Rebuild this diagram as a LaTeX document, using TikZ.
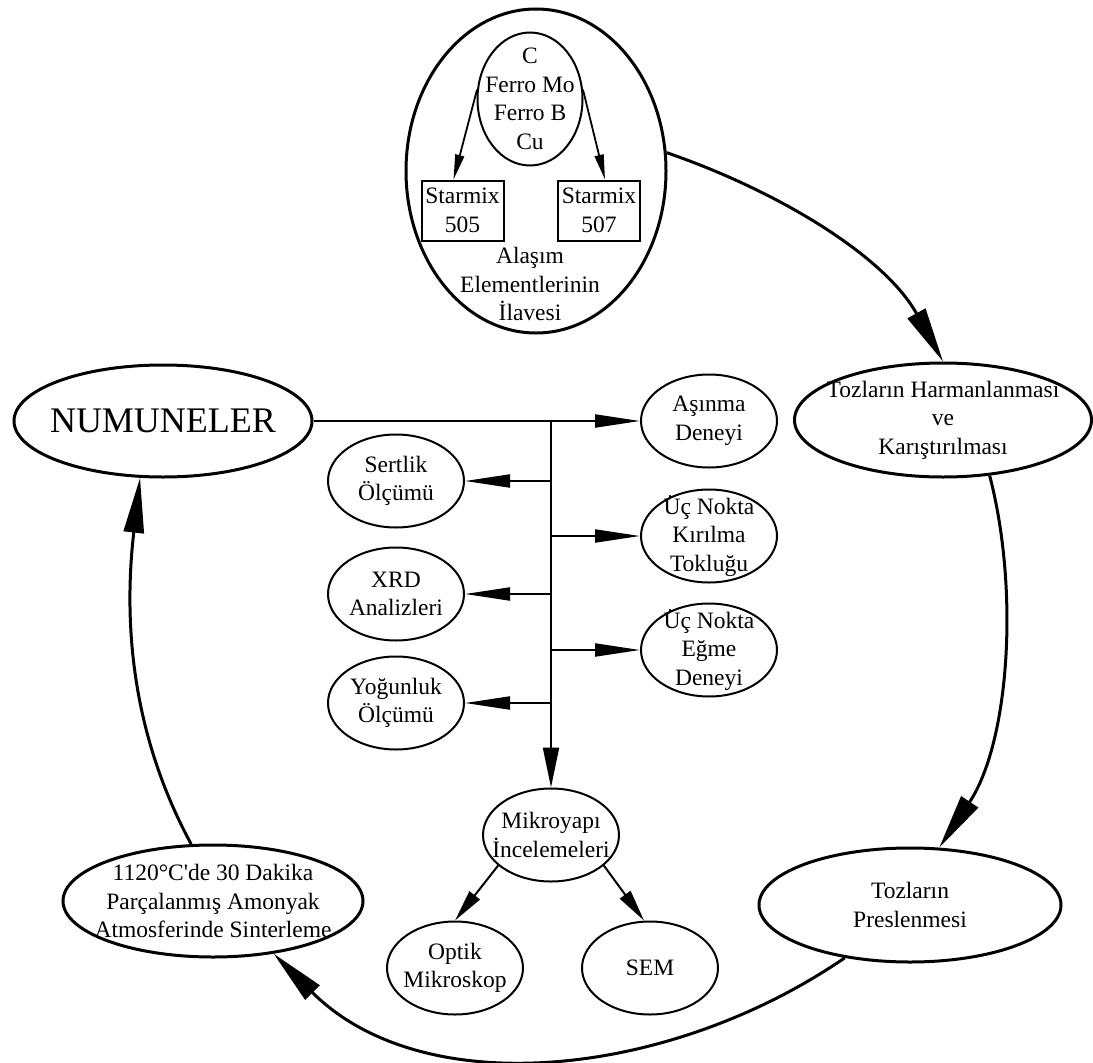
\documentclass[tikz,border=0pt]{standalone}
\usepackage{fontspec}
\setmainfont{Liberation Serif}
\usetikzlibrary{arrows.meta,shapes.geometric}
\begin{document}
\begin{tikzpicture}[x=1pt,y=-1pt,
  base/.style={font=\fontsize{23.5}{28.5}\selectfont, align=center},
  lbl/.style={base, inner sep=0pt},
  thickell/.style={draw, ellipse, line width=3pt, inner sep=0pt},
  thinell/.style={draw, ellipse, line width=2pt, inner sep=0pt, minimum width=136pt, minimum height=93pt},
  boxnode/.style={draw, rectangle, line width=2pt, inner sep=0pt, minimum width=82pt, minimum height=60pt, base},
  bigarrow/.style={line width=3pt, -{Triangle[length=55pt,width=20pt]}},
  brarrow/.style={line width=2pt, -{Triangle[length=45pt,width=13pt]}},
  trunkarrow/.style={line width=2pt, -{Triangle[length=40pt,width=16pt]}},
  midarrow/.style={line width=2pt, -{Triangle[length=32pt,width=13pt]}},
  smallarrow/.style={line width=1.8pt, -{Triangle[length=25pt,width=9pt]}}
]
\useasboundingbox[fill=white] (0,0) rectangle (1093,1063);

% top group
\node[thickell, minimum width=260pt, minimum height=324pt] (top) at (536,171) {};
\node[draw, ellipse, line width=2pt, inner sep=0pt, minimum width=105pt, minimum height=133pt,
      label={[lbl]center:{C\\Ferro Mo\\Ferro B\\Cu}}] (inner) at (530,99) {};
\node[boxnode] (b505) at (462.5,210.5) {Starmix\\505};
\node[boxnode] (b507) at (599,210.5) {Starmix\\507};
\node[lbl] (alasim) at (530,284) {Alaşım\\Elementlerinin\\İlavesi};

% main process nodes
\node[thickell, minimum width=298pt, minimum height=112pt,
      label={[lbl, font=\fontsize{36}{40}\selectfont]center:NUMUNELER}] (num) at (163,421) {};
\node[thickell, minimum width=297pt, minimum height=114pt,
      label={[lbl]center:{Tozların Harmanlanması\\ve\\Karıştırılması}}] (harm) at (943,420) {};
\node[thickell, minimum width=302pt, minimum height=114pt,
      label={[lbl]center:{Tozların\\Preslenmesi}}] (pres) at (910,905) {};
\node[thickell, minimum width=300pt, minimum height=112pt,
      label={[lbl]center:{1120°C\textquotesingle de 30 Dakika\\Parçalanmış Amonyak\\Atmosferinde Sinterleme}}] (sint) at (213,901) {};

% test nodes
\node[thinell, label={[lbl]center:{Aşınma\\Deneyi}}] (asin) at (709,421) {};
\node[thinell, label={[lbl]center:{Üç Nokta\\Kırılma\\Tokluğu}}] (kir) at (709,536) {};
\node[thinell, label={[lbl]center:{Üç Nokta\\Eğme\\Deneyi}}] (egme) at (709,650) {};
\node[thinell, label={[lbl]center:{Sertlik\\Ölçümü}}] (sert) at (396,481) {};
\node[thinell, label={[lbl]center:{XRD\\Analizleri}}] (xrd) at (396,594) {};
\node[thinell, label={[lbl]center:{Yoğunluk\\Ölçümü}}] (yog) at (396,703) {};
\node[thinell, label={[lbl]center:{Mikroyapı\\İncelemeleri}}] (mik) at (551,835) {};
\node[thinell, label={[lbl]center:{Optik\\Mikroskop}}] (opt) at (455,968) {};
\node[thinell, label={[lbl]center:{SEM}}] (sem) at (650,968) {};

% inner arrows
\draw[smallarrow] (inner.170) -- ([xshift=-9pt]b505.north);
\draw[smallarrow] (inner.10) -- ([xshift=6pt]b507.north);

% trunk and branches
\coordinate (j0) at (num.east -| mik.north);
\draw[brarrow] (num.east) -- (asin.west);
\draw[trunkarrow] (j0) -- (mik.north);
\draw[brarrow] (kir.west -| j0) -- (kir.west);
\draw[brarrow] (egme.west -| j0) -- (egme.west);
\draw[brarrow] (sert.east -| j0) -- (sert.east);
\draw[brarrow] (xrd.east -| j0) -- (xrd.east);
\draw[brarrow] (yog.east -| j0) -- (yog.east);
\draw[midarrow] (mik.210) -- (opt.north);
\draw[midarrow] (mik.330) -- ([xshift=-6pt]sem.north);

% cycle curves
\draw[bigarrow] (top.8) .. controls +(113,39) and +(-58,-105) .. (harm.north);
\draw[bigarrow] (harm.-50) .. controls +(30,115) and +(70,-105) .. (pres.63);
\draw[bigarrow] (pres.219) .. controls +(-175,120) and +(150,150) .. (sint.-41);
\draw[bigarrow] (sint.111) .. controls +(-65,-120) and +(-15,130) .. (num.248);
\end{tikzpicture}
\end{document}
